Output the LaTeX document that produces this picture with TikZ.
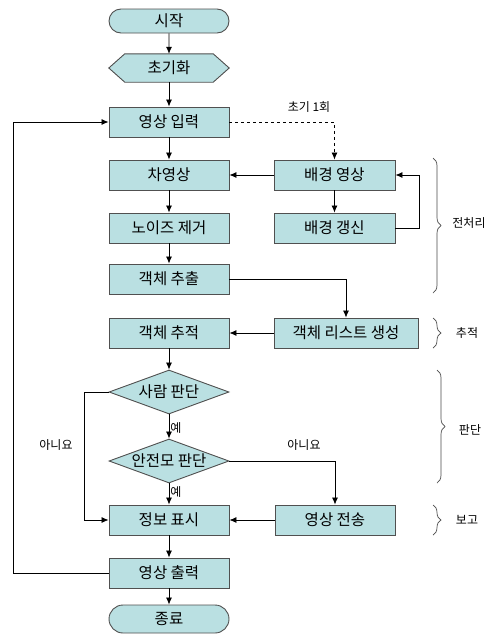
\documentclass[tikz,border=0pt]{standalone}
\usepackage{fontspec}
\newfontfamily\kr{Noto Sans CJK KR}
\usetikzlibrary{shapes.misc,shapes.geometric,arrows.meta,decorations.pathreplacing,backgrounds}
\definecolor{boxfill}{RGB}{186,224,226}
\definecolor{boxline}{RGB}{80,80,80}
\tikzset{
  base/.style={draw=boxline, fill=boxfill, line width=0.9pt, inner sep=0pt, font=\kr\fontsize{15.5}{15.5}\selectfont},
  procbox/.style={base, rectangle, minimum width=120pt, minimum height=30pt},
  term/.style={base, rounded rectangle, minimum width=120pt, minimum height=24pt},
  hexbox/.style={rectangle, inner sep=0pt, minimum width=120pt, minimum height=28pt, font=\kr\fontsize{15.5}{15.5}\selectfont},
  decide/.style={base, diamond, aspect=2.7, minimum width=120pt, minimum height=44pt},
  arr/.style={draw=black, line width=0.8pt, -{Latex[length=7pt,width=6pt]}},
  lbl/.style={font=\kr\fontsize{12}{12}\selectfont, inner sep=1pt},
  brc/.style={draw=black!70, line width=0.7pt, decorate, decoration={brace, amplitude=8pt}},
}
\begin{document}
\begin{tikzpicture}[x=1pt,y=-1pt]
\useasboundingbox (0,0) rectangle (498,635);
\node[term] (start) at (169,21) {시작};
\node[hexbox] (init) at (169,68) {초기화};
\begin{scope}[on background layer]
\fill[white] (0,0) rectangle (498,635);
\draw[draw=boxline, fill=boxfill, line width=0.9pt] (init.west) -- ([xshift=16pt]init.north west) -- ([xshift=-16pt]init.north east) -- (init.east) -- ([xshift=-16pt]init.south east) -- ([xshift=16pt]init.south west) -- cycle;
\end{scope}
\node[procbox] (input) at (169,122) {영상 입력};
\node[procbox] (diff) at (169,175) {차영상};
\node[procbox, minimum width=121pt] (bg) at (334.5,175) {배경 영상};
\node[procbox] (noise) at (169,228) {노이즈 제거};
\node[procbox, minimum width=121pt] (bgupd) at (334.5,228) {배경 갱신};
\node[procbox] (extract) at (169,279) {객체 추출};
\node[procbox] (track) at (169,333) {객체 추적};
\node[procbox, minimum width=144pt] (list) at (346,333) {객체 리스트 생성};
\node[decide] (person) at (169,392) {사람 판단};
\node[decide] (helmet) at (169,461) {안전모 판단};
\node[procbox] (info) at (169,520) {정보 표시};
\node[procbox] (send) at (335,520) {영상 전송};
\node[procbox] (output) at (169,573) {영상 출력};
\node[term, minimum height=28pt] (end) at (169,619) {종료};

\draw[arr] (start) -- (init);
\draw[arr] (init) -- (input);
\draw[arr] (input) -- (diff);
\draw[arr, dashed] (input.east) -| (bg.north);
\node[lbl] (once) at (309,107) {초기 1회};
\draw[arr] (bg.west) -- (diff.east);
\draw[arr] (bg) -- (bgupd);
\draw[arr] (bgupd.east) -- ++(24,0) |- (bg.east);
\draw[arr] (diff) -- (noise);
\draw[arr] (noise) -- (extract);
\draw[arr] (extract.east) -| (list.north);
\draw[arr] (list.west) -- (track.east);
\draw[arr] (track) -- (person);
\draw[arr] (person.south) -- node[lbl, right, pos=0.55] (yes1) {예} (helmet.north);
\draw[arr] (person.west) -- ++(-24,0) |- (info.west);
\node[lbl] (no1) at (56,445) {아니요};
\draw[arr] (helmet.east) -| (send.north);
\node[lbl] (no2) at (304,445) {아니요};
\draw[arr] (helmet.south) -- node[lbl, right, pos=0.4] (yes2) {예} (info.north);
\draw[arr] (send.west) -- (info.east);
\draw[arr] (info) -- (output);
\draw[arr] (output.west) -- ++(-95,0) |- (input.west);
\draw[arr] (output) -- (end);

\draw[brc] (433,158) -- (433,293);
\node[lbl] (pre) at (469,223) {전처리};
\draw[brc] (433,318) -- (433,348);
\node[lbl] (trk) at (467,333) {추적};
\draw[brc] (437,370) -- (437,483);
\node[lbl] (jdg) at (470,430) {판단};
\draw[brc] (433,505) -- (433,535);
\node[lbl] (rep) at (467,520) {보고};
\end{tikzpicture}
\end{document}
